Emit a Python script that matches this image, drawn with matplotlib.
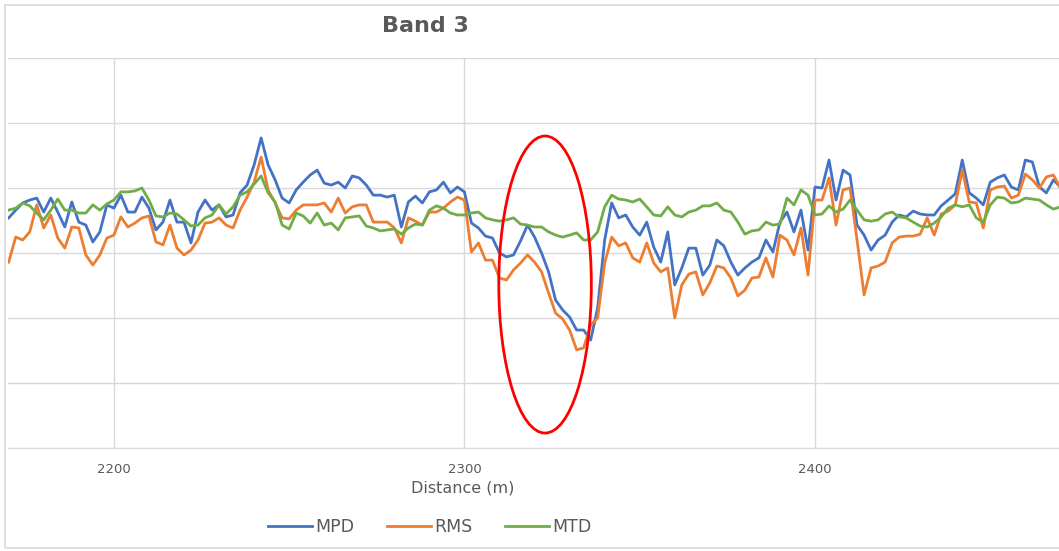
import numpy as np
import matplotlib
matplotlib.use('Agg')
import matplotlib.pyplot as plt
from matplotlib.patches import Ellipse, Rectangle

# distance along the survey (m), one reading every 2 m
distance = np.arange(2170, 2471, 2)

mpd = [0.708, 0.732, 0.754, 0.763, 0.769, 0.726, 0.769, 0.726, 0.680, 0.757,
       0.695, 0.686, 0.634, 0.665, 0.748, 0.738, 0.778, 0.726, 0.726, 0.772,
       0.738, 0.671, 0.695, 0.763, 0.695, 0.695, 0.631, 0.726, 0.763, 0.732,
       0.748, 0.711, 0.717, 0.785, 0.809, 0.871, 0.954, 0.871, 0.825, 0.769,
       0.754, 0.794, 0.818, 0.840, 0.855, 0.815, 0.809, 0.818, 0.800, 0.837,
       0.831, 0.809, 0.778, 0.778, 0.772, 0.778, 0.680, 0.757, 0.775, 0.754,
       0.788, 0.794, 0.818, 0.785, 0.803, 0.788, 0.692, 0.677, 0.652, 0.646,
       0.600, 0.588, 0.594, 0.637, 0.686, 0.649, 0.600, 0.542, 0.455, 0.425,
       0.403, 0.363, 0.363, 0.332, 0.431, 0.640, 0.754, 0.708, 0.717, 0.680,
       0.655, 0.695, 0.618, 0.572, 0.665, 0.502, 0.554, 0.615, 0.615, 0.532,
       0.563, 0.640, 0.622, 0.572, 0.532, 0.554, 0.572, 0.585, 0.640, 0.603,
       0.695, 0.726, 0.665, 0.732, 0.609, 0.803, 0.800, 0.886, 0.763, 0.855,
       0.840, 0.686, 0.655, 0.609, 0.640, 0.655, 0.695, 0.717, 0.711, 0.729,
       0.720, 0.717, 0.717, 0.745, 0.763, 0.782, 0.886, 0.785, 0.769, 0.748,
       0.818, 0.831, 0.840, 0.803, 0.794, 0.886, 0.880, 0.803, 0.785, 0.825,
       0.803]

rms = [0.572, 0.649, 0.640, 0.665, 0.748, 0.677, 0.717, 0.646, 0.615, 0.680,
       0.677, 0.594, 0.563, 0.594, 0.646, 0.655, 0.711, 0.680, 0.692, 0.708,
       0.714, 0.634, 0.625, 0.686, 0.615, 0.594, 0.609, 0.640, 0.692, 0.695,
       0.708, 0.686, 0.677, 0.732, 0.772, 0.818, 0.895, 0.794, 0.754, 0.708,
       0.705, 0.732, 0.748, 0.748, 0.748, 0.754, 0.726, 0.769, 0.723, 0.742,
       0.748, 0.748, 0.695, 0.695, 0.695, 0.677, 0.631, 0.708, 0.698, 0.686,
       0.726, 0.726, 0.738, 0.757, 0.772, 0.763, 0.603, 0.631, 0.578, 0.578,
       0.523, 0.517, 0.548, 0.569, 0.594, 0.572, 0.542, 0.477, 0.415, 0.397,
       0.363, 0.302, 0.308, 0.378, 0.400, 0.569, 0.649, 0.622, 0.631, 0.585,
       0.572, 0.631, 0.569, 0.542, 0.554, 0.400, 0.502, 0.535, 0.542, 0.471,
       0.508, 0.560, 0.554, 0.523, 0.468, 0.486, 0.523, 0.526, 0.585, 0.526,
       0.655, 0.640, 0.594, 0.677, 0.532, 0.763, 0.763, 0.831, 0.686, 0.794,
       0.800, 0.640, 0.471, 0.554, 0.560, 0.572, 0.631, 0.649, 0.652, 0.652,
       0.658, 0.708, 0.655, 0.720, 0.729, 0.748, 0.855, 0.757, 0.754, 0.677,
       0.794, 0.803, 0.806, 0.769, 0.778, 0.843, 0.825, 0.800, 0.834, 0.840,
       0.800]

mtd = [0.732, 0.738, 0.754, 0.745, 0.723, 0.702, 0.732, 0.766, 0.732, 0.732,
       0.723, 0.723, 0.748, 0.732, 0.751, 0.763, 0.788, 0.788, 0.791, 0.800,
       0.763, 0.714, 0.711, 0.723, 0.720, 0.702, 0.683, 0.686, 0.708, 0.717,
       0.748, 0.720, 0.742, 0.778, 0.788, 0.812, 0.837, 0.785, 0.757, 0.686,
       0.674, 0.723, 0.714, 0.692, 0.723, 0.686, 0.692, 0.671, 0.708, 0.711,
       0.714, 0.683, 0.677, 0.668, 0.671, 0.674, 0.658, 0.677, 0.689, 0.686,
       0.732, 0.745, 0.738, 0.723, 0.717, 0.717, 0.723, 0.726, 0.708, 0.702,
       0.698, 0.702, 0.708, 0.689, 0.686, 0.680, 0.680, 0.665, 0.655, 0.649,
       0.655, 0.662, 0.640, 0.640, 0.665, 0.742, 0.778, 0.766, 0.763, 0.757,
       0.766, 0.742, 0.717, 0.714, 0.742, 0.717, 0.711, 0.726, 0.732, 0.745,
       0.745, 0.754, 0.732, 0.726, 0.695, 0.658, 0.668, 0.671, 0.695, 0.686,
       0.689, 0.769, 0.748, 0.794, 0.778, 0.717, 0.720, 0.745, 0.726, 0.735,
       0.763, 0.732, 0.702, 0.698, 0.702, 0.720, 0.726, 0.711, 0.708, 0.695,
       0.683, 0.680, 0.692, 0.711, 0.738, 0.748, 0.742, 0.748, 0.708, 0.695,
       0.748, 0.772, 0.769, 0.754, 0.757, 0.769, 0.766, 0.763, 0.748, 0.735,
       0.742]

xticks = [2200, 2300, 2400]
series = [("MPD", mpd, "#4472C4"), ("RMS", rms, "#ED7D31"), ("MTD", mtd, "#70AD47")]

W, H = 1059, 551
fig = plt.figure(figsize=(W / 100, H / 100), dpi=100)

# chart area border (right side cut off like the screenshot)
fig.patches.append(Rectangle((5 / W, 1 - 548 / H), 1.1, (548 - 5) / H, transform=fig.transFigure,
                             fill=False, edgecolor="#d9d9d9", lw=1.2))

ax = fig.add_axes([8 / W, 1 - 448 / H, 1 - 8 / W, 390 / H])

for name, vals, col in series:
    ax.plot(distance, vals, color=col, lw=2.0, label=name, solid_joinstyle='round')

# highlighted zone
ax.add_patch(Ellipse((2323.0, 0.503), 26.4, 0.914, fill=False, edgecolor="#FF0000", lw=2.0, zorder=5))

ax.set_xlim(2169.8, 2469.6)
ax.set_ylim(0, 1.2)
ax.set_xticks(xticks)
ax.set_yticks(np.arange(0, 1.21, 0.2))
ax.grid(True, color="#d9d9d9", lw=1.0)
ax.set_axisbelow(True)
for s in ["top", "right", "left"]:
    ax.spines[s].set_visible(False)
ax.spines["bottom"].set_color("#d9d9d9")
ax.tick_params(axis="x", length=0, pad=11, labelsize=9.5, labelcolor="#595959")
ax.tick_params(axis="y", length=0, labelleft=False)

fig.text(425 / W, 1 - 26 / H, "Band 3", ha="center", va="center", fontsize=16,
         fontweight="bold", color="#595959")
fig.text(463 / W, 1 - 488 / H, "Distance (m)", ha="center", va="center", fontsize=11.5,
         color="#595959")

leg = fig.legend(loc="center", bbox_to_anchor=(430 / W, 1 - 527 / H), ncol=3, frameon=False,
                 fontsize=12.5, handlelength=2.5, handletextpad=0.2, columnspacing=1.9)
for t in leg.get_texts():
    t.set_color("#595959")

fig.savefig("out.png", dpi=100)
